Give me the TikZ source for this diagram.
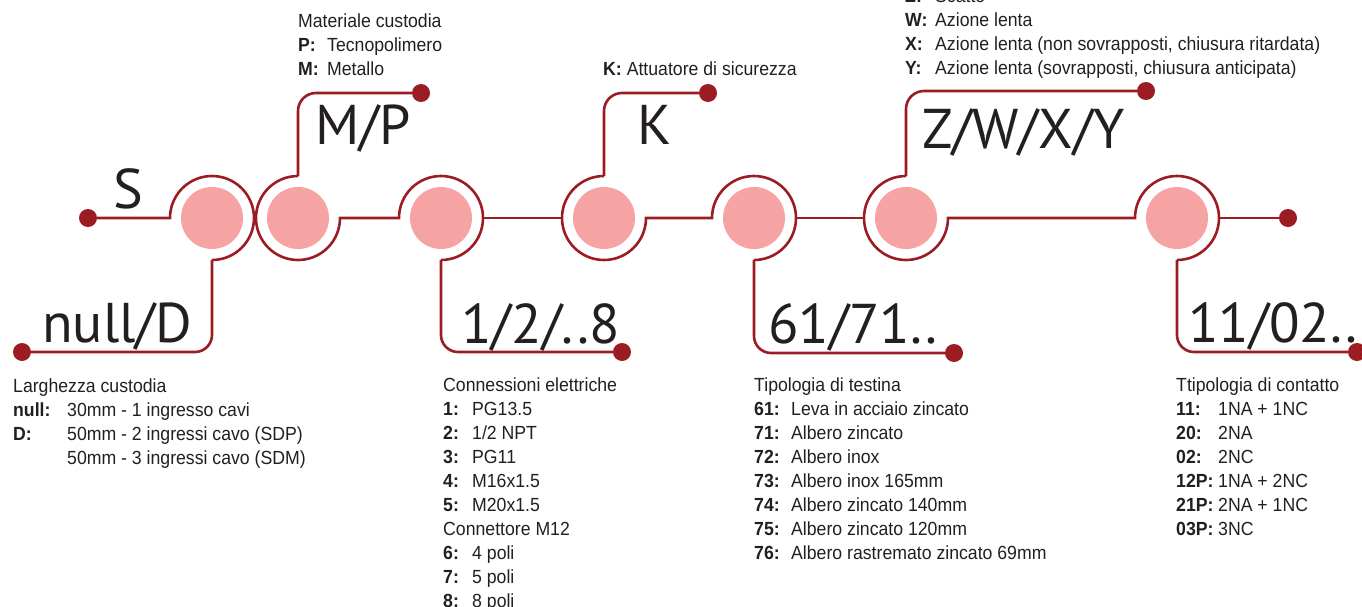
\documentclass[tikz,border=0pt]{standalone}
\usepackage{fontspec}
\setmainfont{Liberation Sans}[FakeStretch=0.93]
\newfontfamily\bigfont{PT Sans}
\definecolor{linered}{HTML}{9B1C23}
\definecolor{pinkfill}{HTML}{F5A3A3}
\definecolor{txt}{HTML}{231F20}
\begin{document}
\begin{tikzpicture}[x=1pt,y=-1pt,
  ring/.style={circle, minimum size=84pt, inner sep=0pt, outer sep=0pt},
  pinkdisc/.style={circle, fill=pinkfill, minimum size=62pt, inner sep=0pt},
  enddot/.style={circle, fill=linered, minimum size=18pt, inner sep=0pt},
  conn/.style={draw=linered, line width=2.6pt},
  biglabel/.style={anchor=base west, inner sep=0pt, text=txt, font=\bigfont\fontsize{56}{60}\selectfont},
  info/.style={anchor=base west, inner sep=0pt, text=txt, font=\fontsize{19}{24}\selectfont, align=left}]
\useasboundingbox (0,0) rectangle (1362,607);

% discs and rings
\foreach \i/\x in {1/212,2/298,3/441,4/604,5/754,6/906,7/1177}{
  \node[pinkdisc] (p\i) at (\x,218) {};
  \node[ring] (r\i) at (\x,218) {};
}

% end dots
\node[enddot] (dS)  at (88,218) {};
\node[enddot] (dD)  at (22,352) {};
\node[enddot] (dMP) at (421,93) {};
\node[enddot] (dK)  at (708,93) {};
\node[enddot] (dZ)  at (1146,91) {};
\node[enddot] (d18) at (622,352) {};
\node[enddot] (d61) at (954,353) {};
\node[enddot] (d11) at (1357,352) {};
\node[enddot] (dE)  at (1288,218) {};

% connectors
\draw[conn] (dS) -- (r1.west) arc[start angle=180,end angle=450,radius=42];
\draw[conn, rounded corners=17] (r1.south) |- (dD);
\draw[conn] (r2.north) arc[start angle=270,end angle=0,radius=42] -- (r3.west) arc[start angle=180,end angle=450,radius=42];
\draw[conn, rounded corners=18] (r2.north) |- (dMP);
\draw[conn, rounded corners=17] (r3.south) |- (d18);
\draw[conn] (r3.east) -- (r4.west);
\draw[conn] (r4.north) arc[start angle=270,end angle=0,radius=42] -- (r5.west) arc[start angle=180,end angle=450,radius=42];
\draw[conn, rounded corners=18] (r4.north) |- (dK);
\draw[conn, rounded corners=17] (r5.south) |- (d61);
\draw[conn] (r5.east) -- (r6.west);
\draw[conn] (r6.north) arc[start angle=270,end angle=0,radius=42] -- (r7.west) arc[start angle=180,end angle=450,radius=42];
\draw[conn, rounded corners=18] (r6.north) |- (dZ);
\draw[conn, rounded corners=17] (r7.south) |- (d11);
\draw[conn] (r7.east) -- (dE);

% big labels
\node[biglabel] (lS)  at (113,208) {S};
\node[biglabel] (lMP) at (315,145) {M/P};
\node[biglabel] (lK)  at (637,145) {K};
\node[biglabel] (lZ)  at (922,148) {Z/W/X/Y};
\node[biglabel] (lD)  at (42,342) {null/D};
\node[biglabel] (l18) at (461,343) {1/2/..8};
\node[biglabel] (l61) at (768,343) {61/71..};
\node[biglabel] (l11) at (1188,342) {11/02..};

% info blocks
\node[info] (tMat) at (298,28) {\begin{tabular}[t]{@{}p{29pt}@{}l@{}}
\multicolumn{2}{@{}l@{}}{Materiale custodia}\\
\textbf{P:} & Tecnopolimero\\
\textbf{M:} & Metallo
\end{tabular}};
\node[info] (tK) at (603,76) {\textbf{K:} Attuatore di sicurezza};
\node[info] (tZ) at (905,3) {\begin{tabular}[t]{@{}p{30pt}@{}l@{}}
\textbf{Z:} & Scatto\\
\textbf{W:} & Azione lenta\\
\textbf{X:} & Azione lenta (non sovrapposti, chiusura ritardata)\\
\textbf{Y:} & Azione lenta (sovrapposti, chiusura anticipata)
\end{tabular}};
\node[info] (tLar) at (13,392) {\begin{tabular}[t]{@{}p{54pt}@{}l@{}}
\multicolumn{2}{@{}l@{}}{Larghezza custodia}\\
\textbf{null:} & 30mm - 1 ingresso cavi\\
\textbf{D:} & 50mm - 2 ingressi cavo (SDP)\\
 & 50mm - 3 ingressi cavo (SDM)
\end{tabular}};
\node[info] (tCon) at (443,391) {\begin{tabular}[t]{@{}p{29pt}@{}l@{}}
\multicolumn{2}{@{}l@{}}{Connessioni elettriche}\\
\textbf{1:} & PG13.5\\
\textbf{2:} & 1/2 NPT\\
\textbf{3:} & PG11\\
\textbf{4:} & M16x1.5\\
\textbf{5:} & M20x1.5\\
\multicolumn{2}{@{}l@{}}{Connettore M12}\\
\textbf{6:} & 4 poli\\
\textbf{7:} & 5 poli\\
\textbf{8:} & 8 poli
\end{tabular}};
\node[info] (tTes) at (754,391) {\begin{tabular}[t]{@{}p{37pt}@{}l@{}}
\multicolumn{2}{@{}l@{}}{Tipologia di testina}\\
\textbf{61:} & Leva in acciaio zincato\\
\textbf{71:} & Albero zincato\\
\textbf{72:} & Albero inox\\
\textbf{73:} & Albero inox 165mm\\
\textbf{74:} & Albero zincato 140mm\\
\textbf{75:} & Albero zincato 120mm\\
\textbf{76:} & Albero rastremato zincato 69mm
\end{tabular}};
\node[info] (tCnt) at (1176,391) {\begin{tabular}[t]{@{}p{42pt}@{}l@{}}
\multicolumn{2}{@{}l@{}}{Ttipologia di contatto}\\
\textbf{11:} & 1NA + 1NC\\
\textbf{20:} & 2NA\\
\textbf{02:} & 2NC\\
\textbf{12P:} & 1NA + 2NC\\
\textbf{21P:} & 2NA + 1NC\\
\textbf{03P:} & 3NC
\end{tabular}};
\end{tikzpicture}
\end{document}
